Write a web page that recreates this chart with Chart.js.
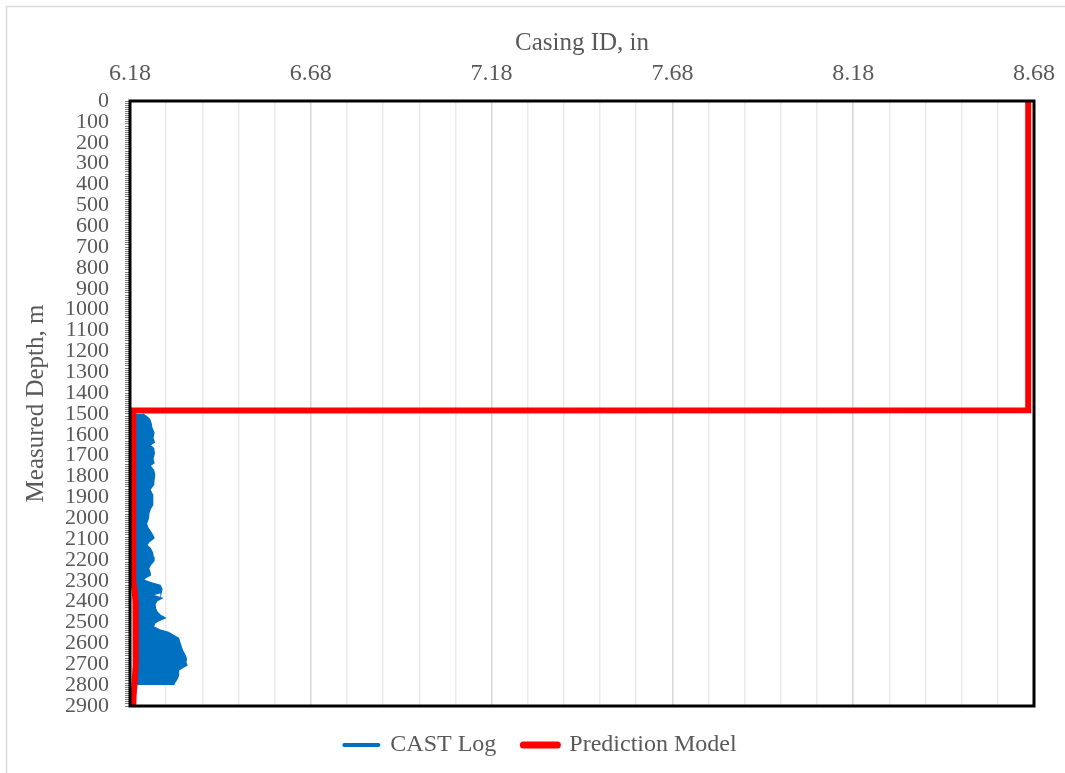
<!DOCTYPE html>
<html>
<head>
<meta charset="utf-8">
<script src="https://cdn.jsdelivr.net/npm/chart.js@4"></script>
<style>
  html, body { margin: 0; padding: 0; background: #fff; }
  #wrap { width: 1065px; height: 773px; }
</style>
</head>
<body>
<div id="wrap"><canvas id="chart" width="1065" height="773"></canvas></div>
<script>
// CAST log (casing ID envelope)
const castDepth = [1500, 1510, 1525, 1545, 1565, 1590, 1615, 1635, 1650, 1665, 1690, 1715, 1735, 1748,
  1770, 1790, 1815, 1840, 1862, 1885, 1910, 1935, 1955, 1975, 1995, 2010, 2025, 2045, 2065, 2080,
  2095, 2112, 2128, 2145, 2165, 2185, 2205, 2222, 2240, 2258, 2272, 2285, 2296, 2310, 2322, 2340,
  2356, 2368, 2383, 2395, 2410, 2432, 2450, 2464, 2478, 2490, 2502, 2520, 2535, 2548, 2562, 2575,
  2598, 2620, 2641, 2660, 2675, 2690, 2704, 2716, 2728, 2752, 2770, 2785, 2800];
const castId = [6.215, 6.224, 6.234, 6.238, 6.240, 6.246, 6.243, 6.247, 6.235, 6.245, 6.247, 6.243, 6.246, 6.235,
  6.245, 6.248, 6.246, 6.245, 6.235, 6.241, 6.243, 6.242, 6.236, 6.232, 6.231, 6.229, 6.225, 6.229, 6.237, 6.242,
  6.246, 6.233, 6.226, 6.236, 6.242, 6.244, 6.246, 6.237, 6.231, 6.235, 6.236, 6.223, 6.216, 6.240, 6.263, 6.268,
  6.266, 6.240, 6.268, 6.255, 6.249, 6.250, 6.255, 6.263, 6.277, 6.260, 6.249, 6.244, 6.262, 6.286, 6.300, 6.314,
  6.318, 6.322, 6.327, 6.333, 6.336, 6.334, 6.337, 6.325, 6.314, 6.314, 6.310, 6.304, 6.300];

// Prediction model
const predDepth = [0, 1482, 1484, 2300, 2350, 2400, 2500, 2600, 2700, 2780, 2850, 2900];
const predId = [8.664, 8.664, 6.189, 6.189, 6.193, 6.195, 6.196, 6.196, 6.195, 6.193, 6.190, 6.189];

// Axis tick labels
const xTickLabels = ['6.18', '6.68', '7.18', '7.68', '8.18', '8.68'];
const depthTickLabels = ['0', '100', '200', '300', '400', '500', '600', '700', '800', '900', '1000',
  '1100', '1200', '1300', '1400', '1500', '1600', '1700', '1800', '1900', '2000', '2100', '2200',
  '2300', '2400', '2500', '2600', '2700', '2800', '2900'];

const textColor = '#595959';
const fontFamily = "'Liberation Serif', 'Times New Roman', serif";

// white page with the thin grey frame at top/left, black box round the plot
const framePlugin = {
  id: 'frame',
  beforeDraw(chart) {
    const ctx = chart.ctx;
    ctx.save();
    ctx.fillStyle = '#fff';
    ctx.fillRect(0, 0, chart.width, chart.height);
    ctx.strokeStyle = '#d9d9d9';
    ctx.lineWidth = 1.5;
    ctx.beginPath();
    ctx.moveTo(6.5, chart.height);
    ctx.lineTo(6.5, 6.5);
    ctx.lineTo(chart.width, 6.5);
    ctx.stroke();
    ctx.restore();
  },
  afterLayout(chart) {
    chart.legend.left += 16;
    chart.legend.right += 16;
  },
  afterDatasetsDraw(chart) {
    const a = chart.chartArea;
    const ctx = chart.ctx;
    ctx.save();
    ctx.strokeStyle = '#000';
    ctx.lineWidth = 3;
    ctx.strokeRect(a.left, a.top, a.right - a.left, a.bottom - a.top);
    ctx.restore();
  }
};

const ctx = document.getElementById('chart').getContext('2d');
new Chart(ctx, {
  type: 'line',
  data: {
    datasets: [{
      label: 'CAST Log',
      data: castDepth.map((d, i) => ({ x: castId[i], y: d })),
      borderColor: '#0070C0',
      backgroundColor: '#0070C0',
      borderWidth: 1.5,
      pointRadius: 0,
      tension: 0,
      order: 2,
      fill: { value: 6.192 }
    }, {
      label: 'Prediction Model',
      data: predDepth.map((d, i) => ({ x: predId[i], y: d })),
      borderColor: '#FF0000',
      backgroundColor: '#FF0000',
      borderWidth: 6,
      pointRadius: 0,
      tension: 0,
      order: 1,
      fill: false
    }]
  },
  options: {
    indexAxis: 'y',
    responsive: false,
    animation: false,
    layout: { padding: { top: 20, left: 15, right: 31, bottom: 6 } },
    plugins: {
      tooltip: { enabled: false },
      legend: {
        position: 'bottom',
        labels: {
          color: textColor,
          font: { family: fontFamily, size: 24 },
          padding: 27,
          usePointStyle: true,
          pointStyle: 'line',
          pointStyleWidth: 34,
          sort: (a, b) => a.datasetIndex - b.datasetIndex,
          generateLabels(chart) {
            const items = Chart.defaults.plugins.legend.labels.generateLabels(chart);
            items.forEach((it) => {
              it.pointStyle = 'line';
              it.lineWidth = it.datasetIndex === 0 ? 4 : 7;
              it.lineCap = 'round';
            });
            return items;
          }
        }
      }
    },
    scales: {
      x: {
        type: 'linear',
        position: 'top',
        min: 6.18,
        max: 8.68,
        afterBuildTicks(scale) {
          const ticks = [];
          for (let i = 0; i <= 25; i++) ticks.push({ value: +(6.18 + i * 0.1).toFixed(2) });
          scale.ticks = ticks;
        },
        afterFit(scale) {
          scale.height = 81;
          scale.paddingLeft = 0;
          scale.paddingRight = 0;
        },
        ticks: {
          autoSkip: false,
          maxRotation: 0,
          padding: 13,
          color: textColor,
          font: { family: fontFamily, size: 24 },
          callback: (v) => xTickLabels.includes(v.toFixed(2)) ? v.toFixed(2) : ''
        },
        grid: {
          drawTicks: false,
          color: (c) => {
            const t = c.tick ? c.tick.value.toFixed(2) : '';
            return xTickLabels.includes(t) ? '#d6d6d6' : '#ebebeb';
          },
          lineWidth: 1.5
        },
        border: { display: false },
        title: {
          display: true,
          text: 'Casing ID, in',
          color: textColor,
          font: { family: fontFamily, size: 25 },
          padding: { top: 8, bottom: 0 }
        }
      },
      y: {
        type: 'linear',
        reverse: true,
        min: 0,
        max: 2900,
        afterFit(scale) { scale.width = 115; },
        ticks: {
          stepSize: 10,
          autoSkip: false,
          padding: 16,
          color: textColor,
          font: { family: fontFamily, size: 22 },
          callback: (v) => depthTickLabels.includes(String(Math.round(v))) && Math.round(v) % 100 === 0 ? String(Math.round(v)) : ''
        },
        grid: {
          drawOnChartArea: false,
          drawTicks: true,
          tickLength: 5,
          tickColor: '#7f7f7f',
          tickWidth: 1
        },
        border: { display: false },
        title: {
          display: true,
          text: 'Measured Depth, m',
          color: textColor,
          font: { family: fontFamily, size: 25 },
          padding: { top: 6, bottom: 0 }
        }
      }
    }
  },
  plugins: [framePlugin]
});
</script>
</body>
</html>
